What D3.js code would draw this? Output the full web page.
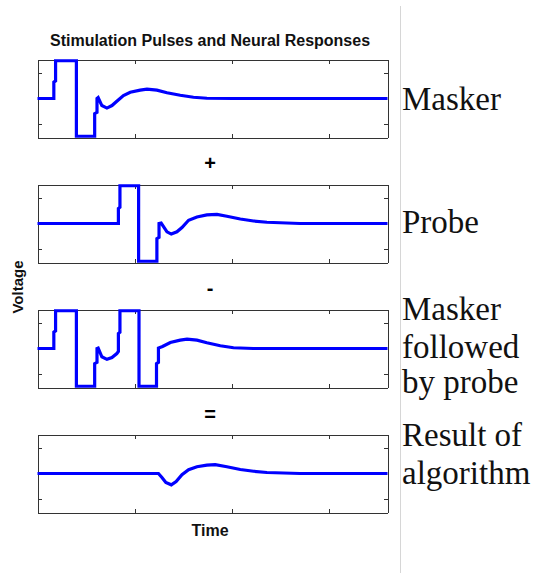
<!DOCTYPE html>
<html>
<head>
<meta charset="utf-8">
<script src="https://cdn.jsdelivr.net/npm/d3@7"></script>
<style>
  body { margin: 0; background: #fff; }
  svg { display: block; }
</style>
</head>
<body>
<script>
// ---- Data ---------------------------------------------------------------
const titleText = "Stimulation Pulses and Neural Responses";
const xLabel = "Time";
const yLabel = "Voltage";
const xTicks = [5, 10, 15];
const yTicks = [-1, 1];
const operators = ["+", "-", "="];
const panelNames = [
  ["Masker"],
  ["Probe"],
  ["Masker", "followed", "by probe"],
  ["Result of", "algorithm"]
];

// Masker pulse and the neural response it evokes
const maskerT = [0, 0.84, 0.84, 0.93, 0.93, 2.0, 2.0, 2.94, 2.94, 3.06, 3.06, 3.12,
  3.31, 3.57, 3.83, 4.08, 4.42, 4.77, 5.28, 5.63, 6.14, 6.66, 7.34, 8.02, 8.71, 10.08, 18];
const maskerV = [0, 0, 0.65, 0.7, 1.5, 1.5, -1.5, -1.5, -0.6, -0.55, 0.0, 0.04,
  -0.28, -0.38, -0.28, -0.11, 0.12, 0.25, 0.33, 0.37, 0.33, 0.23, 0.13, 0.05, 0.01, 0, 0];

// Probe pulse alone
const probeT = [0, 4.16, 4.16, 4.24, 4.24, 5.2, 5.2, 6.14, 6.14, 6.25, 6.25, 6.36,
  6.66, 6.88, 7.17, 7.43, 7.77, 8.2, 8.71, 9.23, 9.74, 10.43, 11.11, 11.8, 13.5, 18];
const probeV = [0, 0, 0.6, 0.65, 1.5, 1.5, -1.5, -1.5, -0.6, -0.55, 0.0, 0.02,
  -0.33, -0.42, -0.33, -0.16, 0.13, 0.26, 0.34, 0.36, 0.29, 0.18, 0.1, 0.05, 0, 0];

// Masker followed by probe
const pairT = [0, 0.84, 0.84, 0.93, 0.93, 2.0, 2.0, 2.94, 2.94, 3.06, 3.06, 3.12,
  3.31, 3.57, 3.83, 4.08, 4.16, 4.16, 4.24, 4.24, 5.22, 5.22, 6.12, 6.12, 6.22, 6.22,
  6.43, 6.83, 7.34, 7.69, 8.2, 8.71, 9.4, 10.08, 11.1, 18];
const pairV = [0, 0, 0.65, 0.7, 1.5, 1.5, -1.5, -1.5, -0.6, -0.55, 0.0, 0.02,
  -0.33, -0.43, -0.36, -0.2, -0.12, 0.6, 0.65, 1.5, 1.5, -1.5, -1.5, -0.6, -0.55, 0.02,
  0.08, 0.24, 0.33, 0.37, 0.33, 0.23, 0.11, 0.03, 0, 0];

// Masker + probe - (masker followed by probe)
const resultT = [0, 6.22, 6.4, 6.6, 6.88, 7.13, 7.43, 7.77, 8.2, 8.71, 9.14, 9.74,
  10.43, 11.11, 11.8, 13.5, 18];
const resultV = [0, 0, -0.16, -0.36, -0.45, -0.32, -0.05, 0.15, 0.27, 0.33, 0.35, 0.27,
  0.16, 0.09, 0.04, 0, 0];

const seriesT = [maskerT, probeT, pairT, resultT];
const seriesV = [maskerV, probeV, pairV, resultV];

// ---- Layout -------------------------------------------------------------
const W = 543, H = 573;
const axLeft = 37.5, axRight = 387.5;
const panelTop0 = 59.5, panelStep = 125, panelH = 78;
const labelX = 402;
const labelBaselines = [[110], [233], [320, 358, 393], [446, 484]];
const operatorBaselines = [169.5, 295, 420.5];

const svg = d3.select("body").append("svg")
  .attr("width", W).attr("height", H);

const x = d3.scaleLinear().domain([0, 18]).range([axLeft, axRight]);
const midX = 210;

// thin separator to the right of the plots
svg.append("line")
  .attr("x1", 400.5).attr("x2", 400.5)
  .attr("y1", 6).attr("y2", H)
  .attr("stroke", "#d6d6d6").attr("stroke-width", 1);

const sans = "'Liberation Sans', Arial, Helvetica, sans-serif";
const serif = "'Liberation Serif', 'Times New Roman', serif";

svg.append("text")
  .attr("x", midX).attr("y", 46)
  .attr("text-anchor", "middle")
  .attr("font-family", sans).attr("font-weight", "bold")
  .attr("font-size", 16)
  .attr("fill", "#111")
  .text(titleText);

svg.append("text")
  .attr("x", midX).attr("y", 536)
  .attr("text-anchor", "middle")
  .attr("font-family", sans).attr("font-weight", "bold")
  .attr("font-size", 16)
  .attr("fill", "#111")
  .text(xLabel);

svg.append("text")
  .attr("transform", "translate(23,287) rotate(-90)")
  .attr("text-anchor", "middle")
  .attr("font-family", sans).attr("font-weight", "bold")
  .attr("font-size", 15)
  .attr("fill", "#111")
  .text(yLabel);

operators.forEach((op, i) => {
  svg.append("text")
    .attr("x", midX).attr("y", operatorBaselines[i])
    .attr("text-anchor", "middle")
    .attr("font-family", sans).attr("font-weight", "bold")
    .attr("font-size", 20)
    .text(op);
});

seriesT.forEach((T, i) => {
  const top = panelTop0 + i * panelStep;
  const bottom = top + panelH;
  const y = d3.scaleLinear().domain([-1.55, 1.55]).range([bottom, top]);
  const g = svg.append("g");

  const styleAxis = sel => {
    sel.selectAll("path.domain").attr("stroke", "#333").attr("stroke-width", 1);
    sel.selectAll(".tick line").attr("stroke", "#333");
    sel.selectAll(".tick text").remove();
    sel.attr("shape-rendering", "crispEdges");
  };

  g.append("g").attr("transform", `translate(0,${bottom})`)
    .call(d3.axisBottom(x).tickValues(xTicks).tickSizeInner(-4).tickSizeOuter(0).tickFormat(""))
    .call(styleAxis);
  g.append("g").attr("transform", `translate(0,${top})`)
    .call(d3.axisTop(x).tickValues(xTicks).tickSizeInner(-4).tickSizeOuter(0).tickFormat(""))
    .call(styleAxis);
  g.append("g").attr("transform", `translate(${axLeft},0)`)
    .call(d3.axisLeft(y).tickValues(yTicks).tickSizeInner(-4).tickSizeOuter(0).tickFormat(""))
    .call(styleAxis);
  g.append("g").attr("transform", `translate(${axRight},0)`)
    .call(d3.axisRight(y).tickValues(yTicks).tickSizeInner(-4).tickSizeOuter(0).tickFormat(""))
    .call(styleAxis);

  const line = d3.line().x(d => x(d[0])).y(d => y(d[1]));
  g.append("path")
    .datum(d3.zip(T, seriesV[i]))
    .attr("fill", "none")
    .attr("stroke", "#0000ff")
    .attr("stroke-width", 3.2)
    .attr("d", line);

  const lab = svg.append("text")
    .attr("font-family", serif)
    .attr("font-size", 33)
    .attr("fill", "#111");
  panelNames[i].forEach((s, j) => {
    lab.append("tspan")
      .attr("x", labelX).attr("y", labelBaselines[i][j])
      .text(s);
  });
});
</script>
</body>
</html>
